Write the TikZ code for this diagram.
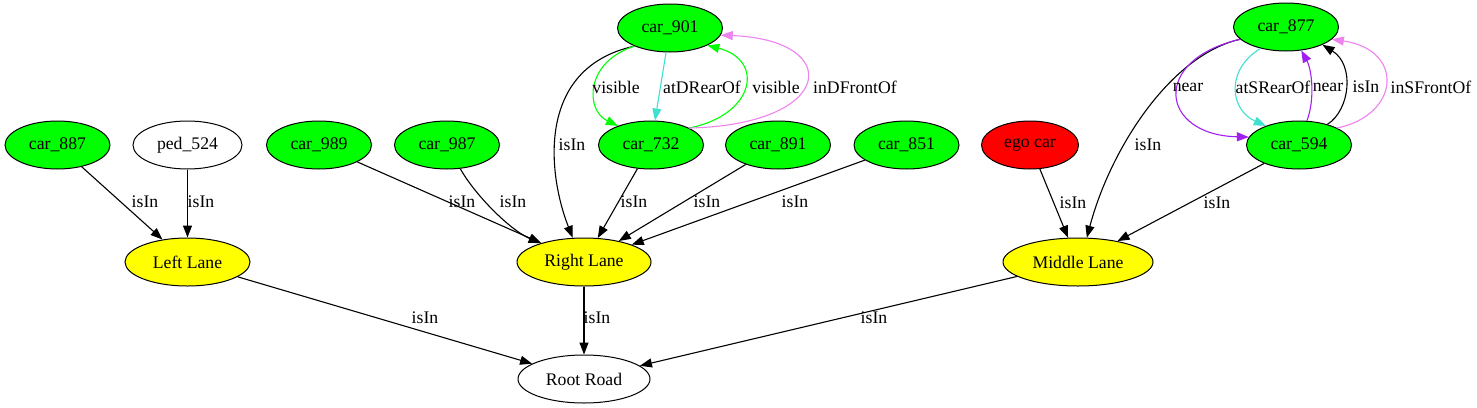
\documentclass[tikz,border=0pt]{standalone}
\usepackage{fontspec}
\setmainfont{Liberation Serif}
\usetikzlibrary{shapes.geometric,arrows.meta}
\definecolor{gvgreen}{RGB}{0,255,0}
\definecolor{gvred}{RGB}{255,0,0}
\definecolor{gvyellow}{RGB}{255,255,0}
\definecolor{turq}{RGB}{64,224,208}
\definecolor{viol}{RGB}{238,130,238}
\definecolor{purp}{RGB}{160,32,240}
\begin{document}
\begin{tikzpicture}[x=1pt,y=-1pt,
  every node/.style={font=\fontsize{17.7}{20}\selectfont},
  gnode/.style={ellipse,draw,line width=1pt,inner sep=0pt,minimum height=48pt,minimum width=105pt},
  carn/.style={gnode,fill=gvgreen},
  lane/.style={gnode,fill=gvyellow},
  edge/.style={line width=1.1pt,-{Triangle[length=12pt,width=9pt]}},
  lbl/.style={inner sep=0pt}
]
\useasboundingbox (0,0) rectangle (1477,407);
% nodes
\node[carn] (c901) at (670,28) {car\_901};
\node[carn] (c877) at (1286,27) {car\_877};
\node[carn] (c887) at (57.5,145) {car\_887};
\node[gnode,fill=white,minimum width=109pt] (p524) at (187.5,145) {ped\_524};
\node[carn] (c989) at (319,145) {car\_989};
\node[carn] (c987) at (447,145) {car\_987};
\node[carn] (c732) at (651,145) {car\_732};
\node[carn] (c891) at (778,145) {car\_891};
\node[carn] (c851) at (906.5,145) {car\_851};
\node[gnode,fill=gvred,minimum width=97pt] (ego) at (1030,145) {ego car};
\node[carn] (c594) at (1299,145) {car\_594};
\node[lane,minimum width=125pt] (ll) at (187.5,262) {Left Lane};
\node[lane,minimum width=134pt] (rl) at (584,262) {Right Lane};
\node[lane,minimum width=150pt] (ml) at (1078,262) {Middle Lane};
\node[gnode,fill=white,minimum width=132pt] (rr) at (584,379) {Root Road};
% edges
\draw[edge] (c887) -- (ll);
\draw[edge] (p524) -- (ll);
\draw[edge] (c989) -- (rl);
\draw[edge] (c987) .. controls (475,195) and (510,230) .. (rl);
\draw[edge] (c901.207) .. controls (535,68) and (548,175) .. (rl.115);
\draw[edge] (c732) -- (rl);
\draw[edge] (c891) -- (rl);
\draw[edge] (c851) -- (rl);
\draw[edge,gvgreen] (c901.207) .. controls (585,62) and (585,110) .. (c732.150);
\draw[edge,turq] (c901) -- (c732);
\draw[edge,gvgreen] (c732.24) .. controls (755,115) and (765,60) .. (c901.-25);
\draw[edge,viol] (c732.24) .. controls (835,125) and (845,40) .. (c901.-8);
\draw[edge] (ll) -- (rr);
\draw[edge] (rl) -- (rr);
\draw[edge] (ml) -- (rr);
\draw[edge] (ego) -- (ml);
\draw[edge] (c594) -- (ml);
\draw[edge] (c877.195) .. controls (1170,55) and (1110,150) .. (ml.70);
\draw[edge,purp] (c877.195) .. controls (1150,60) and (1160,135) .. (c594.171);
\draw[edge,turq] (c877.220) .. controls (1225,70) and (1230,110) .. (c594.150);
\draw[edge,purp] (c594.72) .. controls (1315,100) and (1312,70) .. (c877.-57);
\draw[edge] (c594.36) .. controls (1350,110) and (1355,65) .. (c877.-26);
\draw[edge,viol] (c594.24) .. controls (1400,115) and (1405,50) .. (c877.-15);
% labels
\node[lbl] (t1) at (145,202) {isIn};
\node[lbl] (t2) at (201,202) {isIn};
\node[lbl] (t3) at (462,202) {isIn};
\node[lbl] (t4) at (513,202) {isIn};
\node[lbl] (t5) at (572,145) {isIn};
\node[lbl] (t6) at (634,202) {isIn};
\node[lbl] (t7) at (707,202) {isIn};
\node[lbl] (t8) at (795,202) {isIn};
\node[lbl] (t9) at (616,87) {visible};
\node[lbl] (t10) at (702,87) {atDRearOf};
\node[lbl] (t11) at (776,87) {visible};
\node[lbl] (t12) at (855,87) {inDFrontOf};
\node[lbl] (t13) at (425,318) {isIn};
\node[lbl] (t14) at (597,318) {isIn};
\node[lbl] (t15) at (874,318) {isIn};
\node[lbl] (t16) at (1073,203) {isIn};
\node[lbl] (t17) at (1217,203) {isIn};
\node[lbl] (t18) at (1148,145) {isIn};
\node[lbl] (t19) at (1188,87) {near};
\node[lbl] (t20) at (1273,87) {atSRearOf};
\node[lbl] (t21) at (1328,87) {near};
\node[lbl] (t22) at (1366,87) {isIn};
\node[lbl] (t23) at (1431,87) {inSFrontOf};
\end{tikzpicture}
\end{document}
